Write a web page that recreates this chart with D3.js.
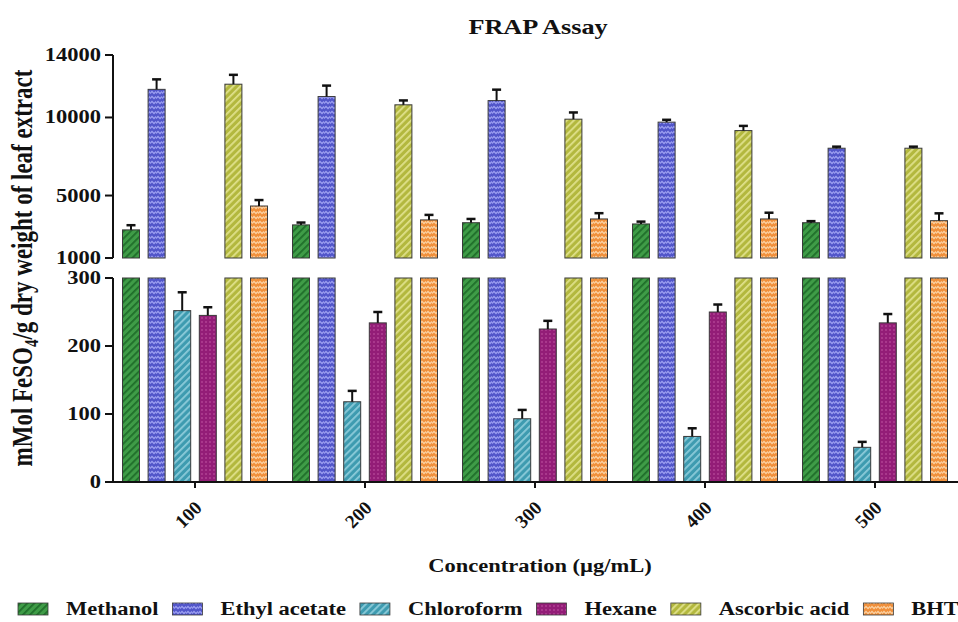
<!DOCTYPE html>
<html><head><meta charset="utf-8">
<script src="https://cdn.jsdelivr.net/npm/d3@7"></script>
<style>
html,body{margin:0;padding:0;background:#fff;}
svg{display:block;}
text{font-family:"Liberation Serif","Times New Roman",serif;font-weight:bold;fill:#111;}
</style></head>
<body>
<svg id="chart" width="958" height="622"></svg>
<script>
// ---- data ----
const concentrations = ["100", "200", "300", "400", "500"];
const seriesNames = ["Methanol", "Ethyl acetate", "Chloroform", "Hexane", "Ascorbic acid", "BHT"];
const methanol      = [2800, 3120, 3260, 3180, 3260];
const methanolErr   = [300, 150, 240, 150, 100];
const ethylAcetate  = [11800, 11340, 11080, 9700, 8030];
const ethylErr      = [640, 700, 700, 150, 100];
const chloroform    = [252, 118, 93, 67, 51];
const chloroformErr = [27, 16, 13, 12, 8];
const hexane        = [245, 234, 225, 250, 234];
const hexaneErr     = [12, 16, 12, 11, 13];
const ascorbicAcid  = [12130, 10810, 9890, 9160, 8030];
const ascorbicErr   = [600, 280, 430, 300, 100];
const bht           = [4330, 3440, 3500, 3500, 3390];
const bhtErr        = [380, 320, 370, 400, 470];
const upperTicks = [1000, 5000, 10000, 14000];
const lowerTicks = [0, 100, 200, 300];

const seriesValues = [methanol, ethylAcetate, chloroform, hexane, ascorbicAcid, bht];
const seriesErrors = [methanolErr, ethylErr, chloroformErr, hexaneErr, ascorbicErr, bhtErr];

// ---- layout ----
const SX = 1.25; // horizontal stretch of the reference image text
const svg = d3.select("#chart");
const left = 113, right = 958;
const x0 = d3.scaleBand().domain(concentrations).range([110, 960]).padding(0);
const x1 = d3.scaleBand().domain(seriesNames).range([12.5, 157.5]).paddingInner(0.336).paddingOuter(0);
const yUp = d3.scaleLinear().domain([1000, 14000]).range([258, 55]);
const yLo = d3.scaleLinear().domain([0, 300]).range([482, 278]);

// ---- patterns ----
const styles = [
  {base: "#3f9c47", fg: "#1f6e2a", kind: "stripe"},
  {base: "#5155c9", fg: "#9a9df0", kind: "wave"},
  {base: "#3e9bb0", fg: "#8ccbd9", kind: "stripe"},
  {base: "#931d77", fg: "#c55aa8", kind: "dots"},
  {base: "#b3b83e", fg: "#dfe08a", kind: "stripe"},
  {base: "#f08f3a", fg: "#fbd0a0", kind: "wave"}
];
const defs = svg.append("defs");
styles.forEach((s, i) => {
  let p;
  if (s.kind === "stripe") {
    p = defs.append("pattern").attr("id", "pat" + i).attr("patternUnits", "userSpaceOnUse")
      .attr("width", 5).attr("height", 5).attr("patternTransform", "rotate(45)");
    p.append("rect").attr("width", 5).attr("height", 5).attr("fill", s.base);
    p.append("rect").attr("width", 1.8).attr("height", 5).attr("fill", s.fg);
  } else if (s.kind === "wave") {
    p = defs.append("pattern").attr("id", "pat" + i).attr("patternUnits", "userSpaceOnUse")
      .attr("width", 6).attr("height", 5);
    p.append("rect").attr("width", 6).attr("height", 5).attr("fill", s.base);
    p.append("path").attr("d", "M0,3.5 L2,1.5 L4,3.5 L6,1.5").attr("fill", "none").attr("stroke", s.fg).attr("stroke-width", 1.3);
  } else {
    p = defs.append("pattern").attr("id", "pat" + i).attr("patternUnits", "userSpaceOnUse")
      .attr("width", 4).attr("height", 4);
    p.append("rect").attr("width", 4).attr("height", 4).attr("fill", s.base);
    p.append("circle").attr("cx", 2).attr("cy", 2).attr("r", 0.8).attr("fill", s.fg);
  }
});

// text helper (stretched horizontally like the reference)
function txt(str, x, y, size, anchor, rot) {
  const t = svg.append("text")
    .attr("transform", `translate(${x},${y}) scale(${SX},1)` + (rot ? ` rotate(${rot})` : ""))
    .attr("font-size", size).attr("text-anchor", anchor || "start");
  t.text(str);
  return t;
}

// ---- bars ----
const barsG = svg.append("g");
concentrations.forEach((c, ci) => {
  seriesNames.forEach((s, si) => {
    const v = seriesValues[si][ci], e = seriesErrors[si][ci];
    const bx = x0(c) + x1(s), bw = x1.bandwidth();
    const fill = `url(#pat${si})`;
    const lv = Math.min(v, 300);
    barsG.append("rect").attr("x", bx).attr("y", yLo(lv)).attr("width", bw)
      .attr("height", yLo(0) - yLo(lv)).attr("fill", fill).attr("stroke", "#3a3a3a").attr("stroke-width", 1);
    let topY, errY;
    if (v > 1000) {
      barsG.append("rect").attr("x", bx).attr("y", yUp(v)).attr("width", bw)
        .attr("height", yUp(1000) - yUp(v)).attr("fill", fill).attr("stroke", "#3a3a3a").attr("stroke-width", 1);
      topY = yUp(v); errY = yUp(v + e);
    } else {
      topY = yLo(v); errY = yLo(v + e);
    }
    const cx = bx + bw / 2;
    barsG.append("line").attr("x1", cx).attr("x2", cx).attr("y1", topY).attr("y2", errY)
      .attr("stroke", "#111").attr("stroke-width", 2);
    barsG.append("line").attr("x1", cx - 4.5).attr("x2", cx + 4.5).attr("y1", errY).attr("y2", errY)
      .attr("stroke", "#111").attr("stroke-width", 2.5);
  });
});

// ---- axes ----
const axG = svg.append("g");
axG.append("line").attr("x1", left).attr("x2", left).attr("y1", yUp(14000)).attr("y2", yUp(1000)).attr("stroke", "#111").attr("stroke-width", 2);
axG.append("line").attr("x1", left).attr("x2", left).attr("y1", yLo(300)).attr("y2", yLo(0)).attr("stroke", "#111").attr("stroke-width", 2);
upperTicks.forEach(t => {
  axG.append("line").attr("x1", left - 8).attr("x2", left).attr("y1", yUp(t)).attr("y2", yUp(t)).attr("stroke", "#111").attr("stroke-width", 2);
  txt(d3.format("d")(t), left - 12, yUp(t) + 6, 18, "end");
});
lowerTicks.forEach(t => {
  axG.append("line").attr("x1", left - 8).attr("x2", left).attr("y1", yLo(t)).attr("y2", yLo(t)).attr("stroke", "#111").attr("stroke-width", 2);
  txt(d3.format("d")(t), left - 12, yLo(t) + 6, 18, "end");
});
axG.append("line").attr("x1", left).attr("x2", right).attr("y1", yLo(0)).attr("y2", yLo(0)).attr("stroke", "#111").attr("stroke-width", 2);
concentrations.forEach(c => {
  const cx = x0(c) + x0.bandwidth() / 2;
  axG.append("line").attr("x1", cx).attr("x2", cx).attr("y1", yLo(0)).attr("y2", yLo(0) + 6).attr("stroke", "#111").attr("stroke-width", 2);
  svg.append("text").attr("transform", `translate(${cx + 8},${yLo(0) + 27}) rotate(-45)`)
    .attr("text-anchor", "end").attr("font-size", 19).text(c);
});

// ---- titles ----
txt("FRAP Assay", 538, 34, 21, "middle");
txt("Concentration (µg/mL)", 540, 572, 18, "middle");
const yt = svg.append("text").attr("transform", `translate(32,268) scale(${SX},1) rotate(-90)`)
  .attr("font-size", 23).attr("text-anchor", "middle");
yt.append("tspan").text("mMol FeSO");
yt.append("tspan").attr("font-size", 15).attr("dy", 5).text("4");
yt.append("tspan").attr("dy", -5).text("/g dry weight of leaf extract");

// ---- legend ----
let lx = 18;
seriesNames.forEach((s, i) => {
  svg.append("rect").attr("x", lx).attr("y", 603).attr("width", 30).attr("height", 12)
    .attr("fill", `url(#pat${i})`).attr("stroke", "#3a3a3a").attr("stroke-width", 0.8);
  const t = txt(s, lx + 48, 615, 18, "start");
  const w = t.node().getComputedTextLength() * SX;
  lx += 48 + w + 14;
});
</script>
</body></html>
